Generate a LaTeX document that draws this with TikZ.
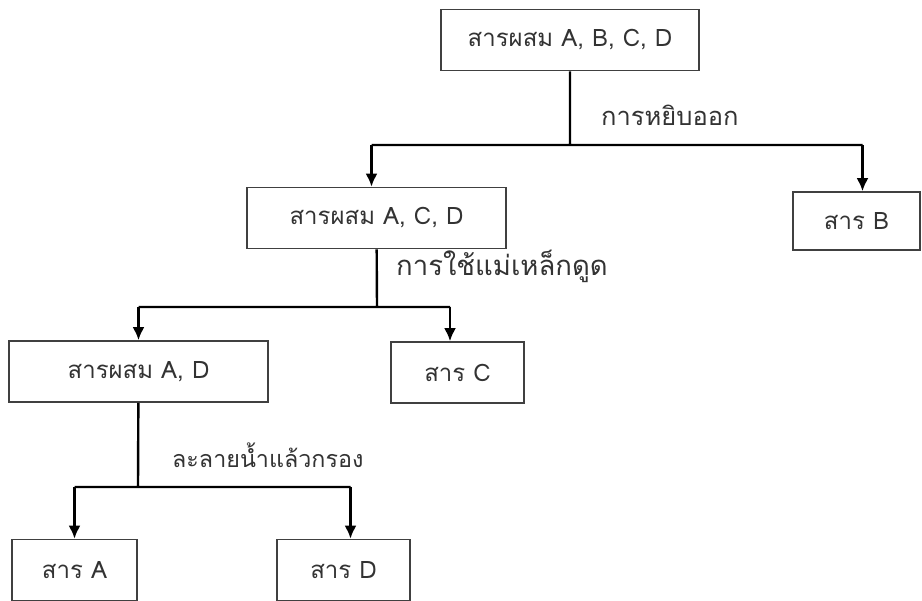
\documentclass[tikz,border=0pt]{standalone}
\usepackage{fontspec}
\usepackage{tikz}
\usetikzlibrary{arrows.meta}
\newfontfamily\thaifont[Script=Thai]{Loma}

\begin{document}
\begin{tikzpicture}[x=1pt,y=-1pt,>={Latex[length=13pt,width=12pt]},
	font=\thaifont\fontsize{24}{27}\selectfont]
	
	\tikzstyle{box}=[draw=black!75,line width=1.6pt,text=black!80,
	inner sep=0pt,minimum height=61pt]
	\tikzstyle{link}=[draw=black,line width=2.4pt]
	\tikzstyle{howto}=[anchor=west,text=black!80,inner sep=0pt]
	
	\clip (0,0) rectangle (922,601);
	\fill[white] (0,0) rectangle (922,601);
	
	\node[box,minimum width=258pt] (mixABCD) at (570,40)    {สารผสม A, B, C, D};
	\node[box,minimum width=259pt] (mixACD)  at (376.5,218) {สารผสม A, C, D};
	\node[box,minimum width=127pt,minimum height=58pt] (subB) at (856.5,221) {สาร B};
	\node[box,minimum width=259pt] (mixAD)   at (138.5,371.5) {สารผสม A, D};
	\node[box,minimum width=133pt] (subC)    at (457.5,372.5) {สาร C};
	\node[box,minimum width=125pt] (subA)    at (74.5,570)  {สาร A};
	\node[box,minimum width=133pt] (subD)    at (343.5,570) {สาร D};
	
	\coordinate (split1) at (570,145);
	\coordinate (split2) at (377,307);
	\coordinate (split3) at (138,487);
	
	\node[howto,font=\thaifont\fontsize{25.5}{28}\selectfont] (pick) at (601,115) {การหยิบออก};
	\node[howto,font=\thaifont\fontsize{27.5}{30}\selectfont] (magnet) at (396,266) {การใช้แม่เหล็กดูด};
	\node[howto,font=\thaifont\fontsize{23.3}{26}\selectfont] (filter) at (172,455) {ละลายน้ำแล้วกรอง};
	
	% arrow drops, a little off the box middles as in the drawing
	\foreach \to/\from/\dx in {mixACD/split1/-5, subB/split1/6, mixAD/split2/0,
		subC/split2/-7.5, subA/split3/0, subD/split3/7}
	{
		\coordinate (\to-top) at ([xshift=\dx pt]\to.north);
		\draw[link,->] (\to-top |- \from) -- (\to-top);
	}
	
	\path[link] (mixABCD) -- (split1)
	(mixACD-top |- split1) -- (subB-top |- split1)
	(mixACD) -- (split2)
	(mixAD-top |- split2) -- (subC-top |- split2)
	(mixAD) -- (split3)
	(subA-top |- split3) -- (subD-top |- split3);
\end{tikzpicture}
\end{document}
